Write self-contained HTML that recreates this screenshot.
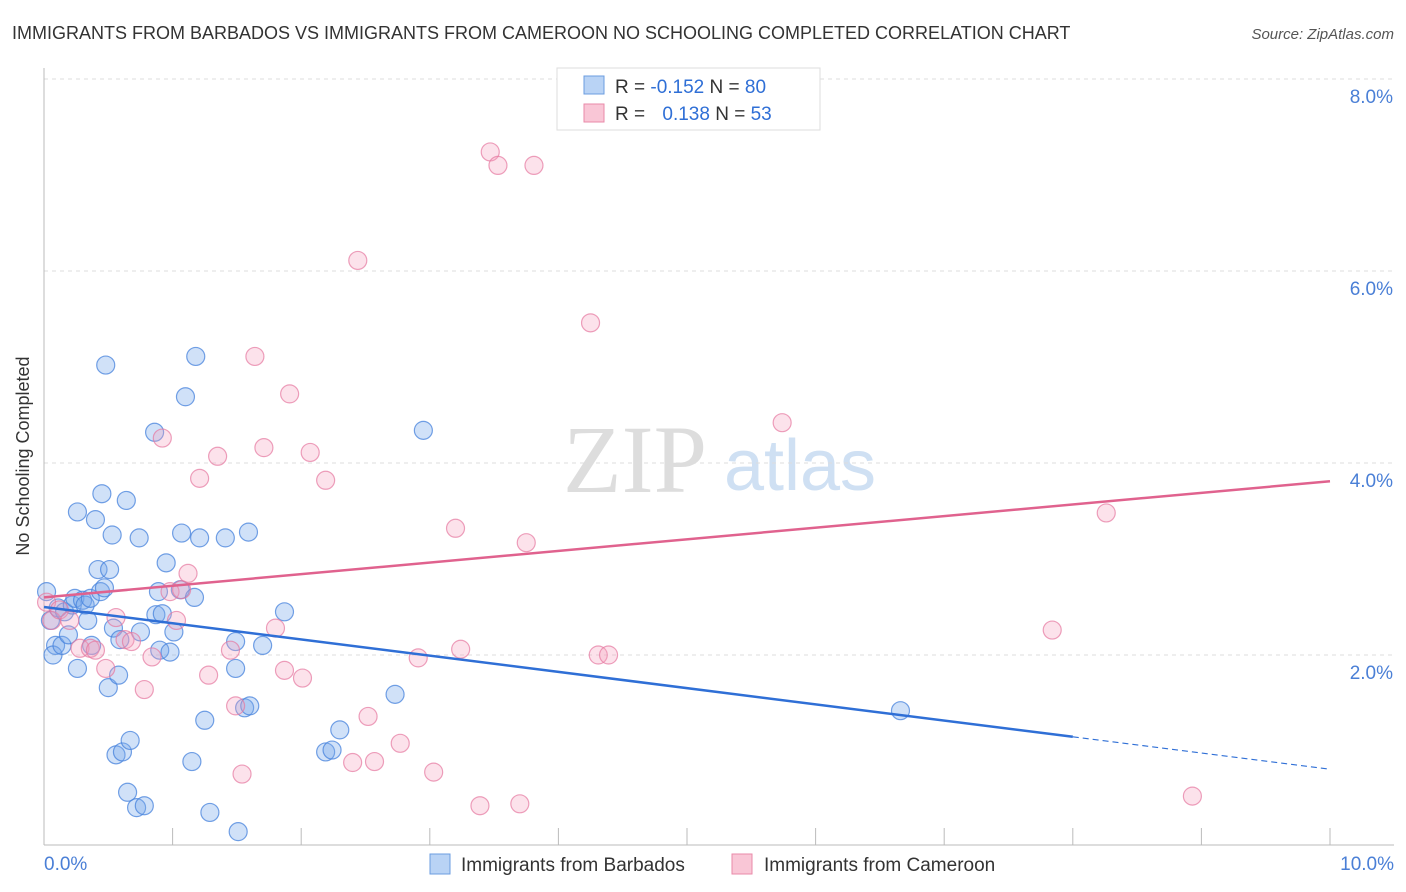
<!DOCTYPE html>
<html><head><meta charset="utf-8"><style>
body{margin:0;background:#fff;font-family:"Liberation Sans",sans-serif;}
svg{display:block}
</style></head><body>
<svg id="c" width="1406" height="892" font-family="Liberation Sans, sans-serif">
<text x="12" y="39" font-size="18" fill="#333">IMMIGRANTS FROM BARBADOS VS IMMIGRANTS FROM CAMEROON NO SCHOOLING COMPLETED CORRELATION CHART</text>
<text x="1394" y="39" font-size="15" fill="#555" font-style="italic" text-anchor="end">Source: ZipAtlas.com</text>
<text x="29" y="456" font-size="18" fill="#333" text-anchor="middle" transform="rotate(-90 29 456)">No Schooling Completed</text>
<text x="635" y="492" font-size="96" fill="#ddd" text-anchor="middle" font-family="Liberation Serif, serif">ZIP</text>
<text x="800" y="490" font-size="72" fill="#cfe0f3" text-anchor="middle">atlas</text>
<g id="grid"></g><g id="axes"></g><g id="pts"></g><g id="lines"></g>
<g>
<rect x="557" y="68" width="263" height="62" fill="#fff" stroke="#ddd"/>
<rect x="584" y="76" width="20" height="18" fill="#b9d3f5" stroke="#6b9de0"/>
<rect x="584" y="104" width="20" height="18" fill="#f9c6d6" stroke="#e98aa8"/>
<text x="615" y="93" font-size="19" fill="#333">R = <tspan fill="#2f6fd6">-0.152</tspan>   N = <tspan fill="#2f6fd6">80</tspan></text>
<text x="615" y="120" font-size="19" fill="#333">R =  <tspan fill="#2f6fd6" dx="12">0.138</tspan>   N = <tspan fill="#2f6fd6">53</tspan></text>
</g>
<g>
<rect x="430" y="854" width="20" height="20" fill="#b9d3f5" stroke="#6b9de0"/>
<text x="461" y="871" font-size="19" fill="#333">Immigrants from Barbados</text>
<rect x="732" y="854" width="20" height="20" fill="#f9c6d6" stroke="#e98aa8"/>
<text x="764" y="871" font-size="19" fill="#333">Immigrants from Cameroon</text>
</g>
</svg>
<script>
const blueX=[0.02,0.05,0.09,0.07,0.11,0.14,0.16,0.19,0.22,0.24,0.26,0.26,0.30,0.32,0.34,0.36,0.37,0.40,0.42,0.44,0.45,0.47,0.48,0.50,0.51,0.53,0.54,0.56,0.58,0.59,0.61,0.64,0.65,0.67,0.72,0.75,0.78,0.74,0.86,0.89,0.87,0.90,0.92,0.95,0.98,1.01,1.07,1.06,1.10,1.15,1.17,1.18,1.21,1.25,1.29,1.41,1.49,1.49,1.51,1.56,1.59,1.60,1.70,1.87,2.19,2.24,2.30,2.73,2.95,6.66];
const blueY=[2.66,2.36,2.10,2.00,2.49,2.10,2.45,2.21,2.52,2.59,1.86,3.49,2.57,2.52,2.36,2.59,2.10,3.41,2.89,2.66,3.68,2.70,5.02,1.66,2.89,3.25,2.28,0.96,1.79,2.16,0.99,3.61,0.57,1.11,0.41,2.24,0.43,3.22,4.32,2.66,2.42,2.05,2.43,2.96,2.03,2.24,3.27,2.68,4.69,0.89,2.60,5.11,3.22,1.32,0.36,3.22,2.14,1.86,0.16,1.45,3.28,1.47,2.10,2.45,0.99,1.01,1.22,1.59,4.34,1.42];
const pinkX=[0.02,0.06,0.12,0.20,0.28,0.36,0.40,0.48,0.56,0.63,0.68,0.78,0.84,0.92,0.98,1.03,1.07,1.12,1.21,1.28,1.35,1.45,1.49,1.54,1.64,1.71,1.80,1.87,1.91,2.01,2.07,2.19,2.40,2.44,2.52,2.57,2.77,2.91,3.03,3.20,3.24,3.39,3.47,3.53,3.70,3.75,3.81,4.25,4.31,4.39,4.67,5.74,7.84,8.26,8.93];
const pinkY=[2.55,2.36,2.47,2.36,2.07,2.07,2.05,1.86,2.39,2.16,2.14,1.64,1.98,4.26,2.66,2.36,2.68,2.85,3.84,1.79,4.07,2.05,1.47,0.76,5.11,4.16,2.28,1.84,4.72,1.76,4.11,3.82,0.88,6.11,1.36,0.89,1.08,1.97,0.78,3.32,2.06,0.43,7.24,7.10,0.45,3.17,7.10,5.46,2.00,2.00,8.01,4.42,2.26,3.48,0.53];
const yTicks=[2,4,6,8];
const xTickVals=[0,1,2,3,4,5,6,7,8,9,10];
const blueTrend=[2.50,0.81];
const pinkTrend=[2.60,3.81];
const blueSolidEnd=8.0;
const NS="http://www.w3.org/2000/svg";
function sx(v){return 44+v*128.6;}
function sy(v){return 847-v*96;}
function mk(tag,attrs,parent){const e=document.createElementNS(NS,tag);for(const k in attrs)e.setAttribute(k,attrs[k]);document.getElementById(parent).appendChild(e);return e;}
yTicks.forEach(t=>{
 const l=mk('line',{x1:44,x2:1394,y1:sy(t),y2:sy(t),stroke:'#ddd','stroke-dasharray':'4,4'},'grid');
 
 
 const tx=mk('text',{x:1393,y:sy(t)+24,'font-size':19,fill:'#4a7fd6','text-anchor':'end'},'grid');
 tx.textContent=t.toFixed(1)+'%';
 
 
});
mk('line',{x1:44,x2:44,y1:68,y2:845,stroke:'#bbb'},'axes');
mk('line',{x1:44,x2:1394,y1:845,y2:845,stroke:'#bbb'},'axes');
xTickVals.forEach(t=>{
 const l=mk('line',{x1:sx(t),x2:sx(t),y1:828,y2:845,stroke:'#bbb'},'axes');
 
 
});
const xl0=mk('text',{x:44,y:870,'font-size':19,fill:'#4a7fd6'},'axes');xl0.textContent='0.0%';


const xl1=mk('text',{x:1394,y:870,'font-size':19,fill:'#4a7fd6','text-anchor':'end'},'axes');xl1.textContent='10.0%';


blueX.forEach((x,i)=>{
 const c=mk('circle',{cx:sx(x),cy:sy(blueY[i]),r:9,fill:'rgba(120,170,235,0.35)',stroke:'rgba(70,130,220,0.75)','stroke-width':1.2},'pts');
 
 
});
pinkX.forEach((x,i)=>{
 const c=mk('circle',{cx:sx(x),cy:sy(pinkY[i]),r:9,fill:'rgba(245,160,190,0.3)',stroke:'rgba(230,120,160,0.7)','stroke-width':1.2},'pts');
 
 
});
function by(x){return blueTrend[0]+(blueTrend[1]-blueTrend[0])*x/10;}
function py(x){return pinkTrend[0]+(pinkTrend[1]-pinkTrend[0])*x/10;}
const b1=mk('line',{x1:sx(0),y1:sy(by(0)),x2:sx(blueSolidEnd),y2:sy(by(blueSolidEnd)),stroke:'#2f6fd6','stroke-width':2.5},'lines');


const b2=mk('line',{x1:sx(blueSolidEnd),y1:sy(by(blueSolidEnd)),x2:sx(10),y2:sy(by(10)),stroke:'#2f6fd6','stroke-width':1.2,'stroke-dasharray':'6,4'},'lines');


const p1=mk('line',{x1:sx(0),y1:sy(py(0)),x2:sx(10),y2:sy(py(10)),stroke:'#e0628e','stroke-width':2.5},'lines');


</script>
</body></html>
